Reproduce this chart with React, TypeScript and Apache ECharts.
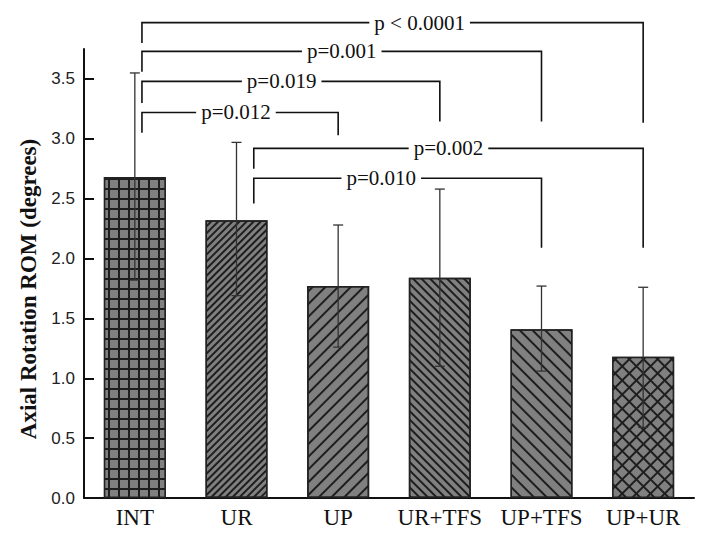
import React, { useEffect, useRef } from 'react';
import * as echarts from 'echarts';

// ---------- data ----------
const categories = ['INT', 'UR', 'UP', 'UR+TFS', 'UP+TFS', 'UP+UR'];
const means = [2.68, 2.32, 1.77, 1.84, 1.41, 1.18];
const errLow = [1.82, 1.69, 1.26, 1.1, 1.06, 0.59];
const errHigh = [3.55, 2.97, 2.28, 2.58, 1.77, 1.76];
const yTicks = [0, 0.5, 1, 1.5, 2, 2.5, 3, 3.5];
const yTitle = 'Axial Rotation ROM (degrees)';

const bracketFrom = [0, 0, 0, 0, 1, 1];
const bracketTo = [5, 4, 3, 2, 5, 4];
const bracketLevel = [3.97, 3.73, 3.48, 3.22, 2.92, 2.67];
const bracketLeftEnd = [3.8, 3.56, 3.3, 3.05, 2.75, 2.46];
const bracketRightEnd = [3.135, 3.145, 3.145, 3.03, 2.09, 2.09];
const bracketLabels = ['p < 0.0001', 'p=0.001', 'p=0.019', 'p=0.012', 'p=0.002', 'p=0.010'];

// ---------- styling ----------
const SERIF = '"Liberation Serif", "Times New Roman", serif';
const SANS = '"Liberation Sans", Arial, sans-serif';
const GRAY = '#808080';
const INK = '#1e1e1e';
const leftShift = [0.07, 0.07, 0.07, 0.07, 0.17, 0.17];
const labelFrac = [0.554, 0.5, 0.469, 0.479, 0.5, 0.443];

const hatch = (gap: number, rotation: number) => ({
  symbol: 'rect',
  symbolSize: 1,
  color: INK,
  dashArrayX: [1, 0],
  dashArrayY: [1.2, gap],
  rotation,
});

const barStyles: any[] = [
  {
    color: INK,
    decal: { symbol: 'rect', symbolSize: 1, color: GRAY, dashArrayX: [7.8, 1.3], dashArrayY: [7.8, 1.3], rotation: 0 },
  },
  { color: GRAY, decal: hatch(3, -Math.PI / 4) },
  { color: GRAY, decal: hatch(6.5, -Math.PI / 4) },
  { color: GRAY, decal: hatch(3.3, Math.PI / 4) },
  { color: GRAY, decal: hatch(7, Math.PI / 4) },
  {
    color: INK,
    decal: { symbol: 'rect', symbolSize: 1, color: GRAY, dashArrayX: [7.4, 1.3], dashArrayY: [7.4, 1.3], rotation: Math.PI / 4 },
  },
];

export default function App() {
  const ref = useRef<HTMLDivElement>(null);

  useEffect(() => {
    if (!ref.current) return;
    const chart = echarts.init(ref.current, null, { renderer: 'svg' });

    const option: any = {
      animation: false,
      backgroundColor: '#ffffff',
      grid: { left: 84, right: 17, top: 49, bottom: 53 },
      graphic: [
        {
          type: 'text',
          x: 28,
          y: 289,
          rotation: Math.PI / 2,
          style: {
            text: yTitle,
            font: `bold 23px ${SERIF}`,
            fill: '#111',
            align: 'center',
            verticalAlign: 'middle',
          },
        },
      ],
      xAxis: {
        type: 'category',
        data: categories,
        axisLine: { lineStyle: { color: '#111', width: 2 } },
        axisTick: { show: false },
        axisLabel: { interval: 0, fontFamily: SERIF, fontSize: 23, color: '#111', margin: 8 },
      },
      yAxis: {
        type: 'value',
        min: 0,
        max: 3.75,
        interval: 0.5,
        axisLine: { show: true, lineStyle: { color: '#111', width: 2 } },
        axisTick: { show: true, inside: true, length: 10, lineStyle: { color: '#111', width: 2 }, customValues: yTicks },
        axisLabel: {
          fontFamily: SANS,
          fontSize: 17,
          color: '#222',
          margin: 9,
          customValues: yTicks,
          formatter: (v: number) => v.toFixed(1),
        },
        splitLine: { show: false },
      },
      series: [
        {
          type: 'bar',
          barWidth: 62,
          data: means.map((v, i) => ({
            value: v,
            itemStyle: { ...barStyles[i], borderColor: '#222', borderWidth: 1.5 },
          })),
          z: 2,
        },
        {
          type: 'custom',
          z: 3,
          encode: { x: 0, y: [1, 2] },
          data: categories.map((_, i) => [i, errLow[i], errHigh[i]]),
          renderItem: (params: any, api: any) => {
            const x = api.value(0);
            const lo = api.coord([x, api.value(1)]);
            const hi = api.coord([x, api.value(2)]);
            const hw = 5;
            const st = { stroke: '#333', lineWidth: 1.3 };
            return {
              type: 'group',
              children: [
                { type: 'line', shape: { x1: lo[0], y1: lo[1], x2: hi[0], y2: hi[1] }, style: st },
                { type: 'line', shape: { x1: lo[0] - hw, y1: lo[1], x2: lo[0] + hw, y2: lo[1] }, style: st },
                { type: 'line', shape: { x1: hi[0] - hw, y1: hi[1], x2: hi[0] + hw, y2: hi[1] }, style: st },
              ],
            };
          },
        },
        {
          type: 'custom',
          z: 4,
          clip: false,
          encode: { x: [0, 1], y: [2, 3, 4] },
          data: bracketLabels.map((_, i) => [
            bracketFrom[i],
            bracketTo[i],
            bracketLevel[i],
            bracketLeftEnd[i],
            bracketRightEnd[i],
          ]),
          renderItem: (params: any, api: any) => {
            const i = params.dataIndex;
            const band = api.size([1, 0])[0];
            const x0 = api.coord([api.value(0), 0])[0] + leftShift[i] * band;
            const x1 = api.coord([api.value(1), 0])[0];
            const yTop = api.coord([0, api.value(2)])[1];
            const yL = api.coord([0, api.value(3)])[1];
            const yR = api.coord([0, api.value(4)])[1];
            const lx = x0 + (x1 - x0) * labelFrac[i];
            return {
              type: 'group',
              children: [
                {
                  type: 'polyline',
                  shape: { points: [[x0, yL], [x0, yTop], [x1, yTop], [x1, yR]] },
                  style: { stroke: '#111', lineWidth: 1.6, fill: null },
                },
                {
                  type: 'text',
                  x: lx,
                  y: yTop,
                  style: {
                    text: bracketLabels[i],
                    font: `21px ${SERIF}`,
                    fill: '#111',
                    align: 'center',
                    verticalAlign: 'middle',
                    backgroundColor: '#ffffff',
                    padding: [0, 5],
                  },
                },
              ],
            };
          },
        },
      ],
    };

    chart.setOption(option);
    return () => chart.dispose();
  }, []);

  return (
    <div
      ref={ref}
      style={{ position: 'fixed', left: 0, top: 0, width: 711, height: 551, background: '#fff' }}
    />
  );
}
